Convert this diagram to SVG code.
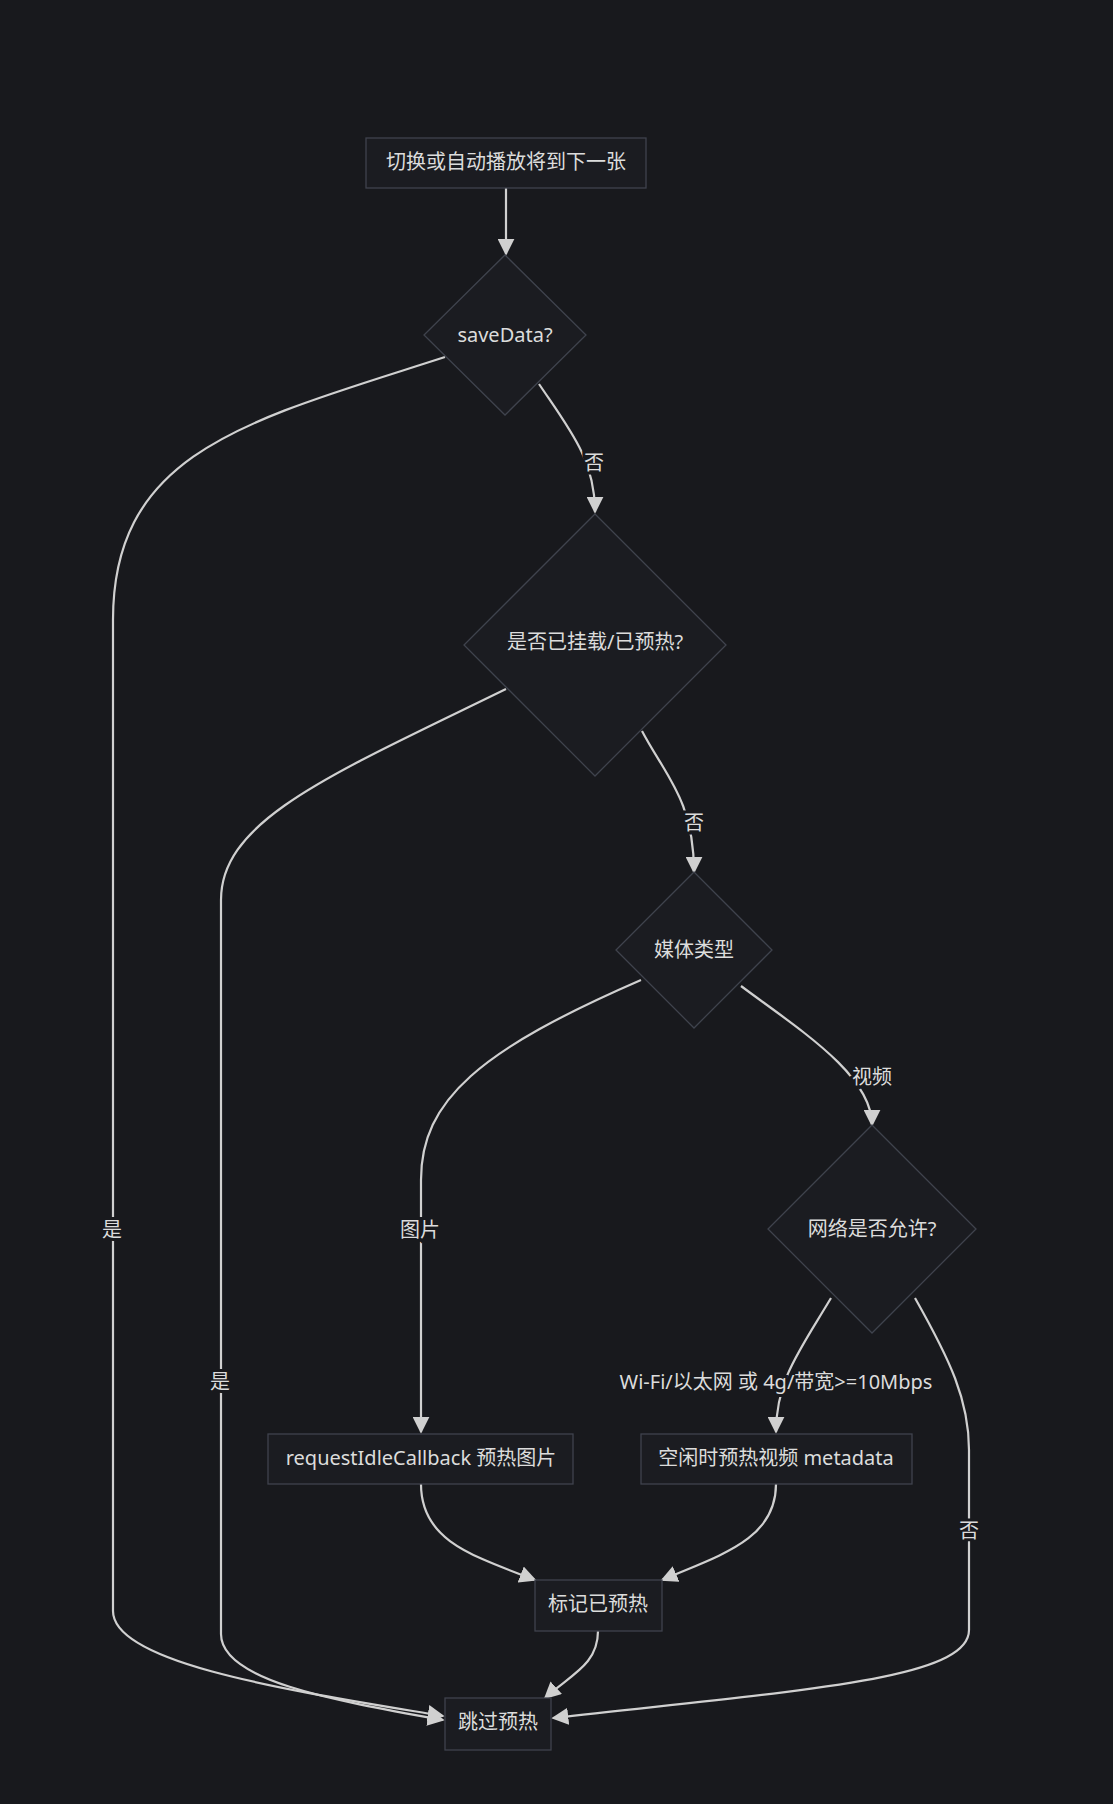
<svg xmlns="http://www.w3.org/2000/svg" width="1113" height="1804" viewBox="0 0 1113 1804">
<defs>
<style>
.n{fill:#1b1c21;stroke:#3f434d;stroke-width:1.3}
.t{font-family:"Noto Sans","Noto Sans CJK SC",sans-serif;font-size:20px;fill:#dcdcdc;text-anchor:middle;dominant-baseline:central}
.e{fill:none;stroke:#d0d0d0;stroke-width:2.2;marker-end:url(#a)}
.l{font-family:"Noto Sans","Noto Sans CJK SC",sans-serif;font-size:20px;fill:#dcdcdc;text-anchor:middle;dominant-baseline:central;stroke:#18191d;stroke-width:6;paint-order:stroke}
</style>
<marker id="a" viewBox="0 0 10 10" refX="9" refY="5" markerWidth="17" markerHeight="17" orient="auto" markerUnits="userSpaceOnUse"><path d="M0,0L10,5L0,10z" fill="#d0d0d0"/></marker>
</defs>
<rect width="1113" height="1804" fill="#18191d"/>
<g id="edges">
<path class="e" d="M506,188 L506,254"/>
<path class="e" d="M445,357 C250,420 113,450 113,620 L113,1611 C113,1665 300,1692 443,1716"/>
<path class="e" d="M539,384 C570,430 595,460 595,512"/>
<path class="e" d="M506,689 C330,775 221,820 221,900 L221,1634 C221,1680 330,1700 443,1720"/>
<path class="e" d="M642,731 C665,775 694,800 694,872"/>
<path class="e" d="M641,980 C480,1050 421,1100 421,1180 L421,1432"/>
<path class="e" d="M741,986 C800,1030 872,1075 872,1125"/>
<path class="e" d="M831,1298 C800,1350 776,1380 776,1432"/>
<path class="e" d="M915,1298 C950,1360 969,1400 969,1450 L969,1630 C969,1680 800,1690 553,1718"/>
<path class="e" d="M421,1484 C421,1540 470,1555 535,1580"/>
<path class="e" d="M776,1484 C776,1540 720,1555 662,1580"/>
<path class="e" d="M598,1631 C598,1665 570,1675 545,1698"/>
<text class="l" x="594" y="462">否</text>
<text class="l" x="694" y="822">否</text>
<text class="l" x="872" y="1076">视频</text>
<text class="l" x="420" y="1229">图片</text>
<text class="l" x="112" y="1229">是</text>
<text class="l" x="220" y="1381">是</text>
<text class="l" x="776" y="1381">Wi-Fi/以太网 或 4g/带宽&gt;=10Mbps</text>
<text class="l" x="969" y="1530">否</text>
</g>
<g id="start"><rect class="n" x="366" y="138" width="280" height="50"/><text class="t" x="506" y="161">切换或自动播放将到下一张</text></g>
<g id="saveData"><polygon class="n" points="505,255 586,335 505,415 424,335"/><text class="t" x="505" y="334">saveData?</text></g>
<g id="mounted"><polygon class="n" points="595,514 726,645 595,776 464,645"/><text class="t" x="595" y="641">是否已挂载/已预热?</text></g>
<g id="media"><polygon class="n" points="694,872 772,950 694,1028 616,950"/><text class="t" x="694" y="949">媒体类型</text></g>
<g id="net"><polygon class="n" points="872,1125 976,1229 872,1333 768,1229"/><text class="t" x="872" y="1228">网络是否允许?</text></g>
<g id="img"><rect class="n" x="268" y="1434" width="305" height="50"/><text class="t" x="421" y="1457">requestIdleCallback 预热图片</text></g>
<g id="vid"><rect class="n" x="641" y="1434" width="271" height="50"/><text class="t" x="776" y="1457">空闲时预热视频 metadata</text></g>
<g id="mark"><rect class="n" x="535" y="1580" width="127" height="51"/><text class="t" x="598" y="1603">标记已预热</text></g>
<g id="skip"><rect class="n" x="445" y="1698" width="106" height="52"/><text class="t" x="498" y="1721">跳过预热</text></g>
</svg>
